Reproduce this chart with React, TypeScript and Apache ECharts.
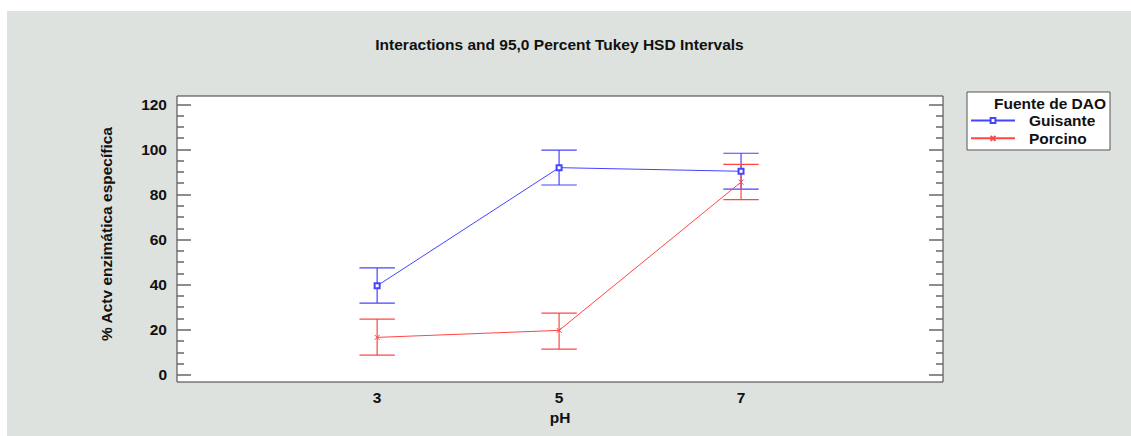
import React, { useEffect, useRef } from "react";
import * as echarts from "echarts";

const titleText = "Interactions and 95,0 Percent Tukey HSD Intervals";
const yAxisName = "% Actv enzimática específica";
const xAxisName = "pH";
const legendTitle = "Fuente de DAO";

const phLevels = [3, 5, 7];
const guisanteMean = [39.5, 91.9, 90.3];
const guisanteLow = [31.8, 84.2, 82.4];
const guisanteHigh = [47.4, 99.7, 98.3];
const porcinoMean = [16.6, 19.7, 85.5];
const porcinoLow = [8.7, 11.4, 77.7];
const porcinoHigh = [24.7, 27.4, 93.4];

const yTickLabels = [0, 20, 40, 60, 80, 100, 120];
const yMinorTicks = [5, 10, 15, 25, 30, 35, 45, 50, 55, 65, 70, 75, 85, 90, 95, 105, 110, 115];
const xTickLabels = [3, 5, 7];

const BLUE = "#4444ff";
const RED = "#ff4646";
const FONT = '"Liberation Sans", Arial, sans-serif';
const FS = 15.5;

function errorBarSeries(name: string, color: string, lows: number[], highs: number[]) {
  return {
    type: "custom",
    name: name + " HSD",
    xAxisIndex: 0,
    yAxisIndex: 0,
    z: 3,
    encode: { x: 0, y: [1, 2] },
    data: phLevels.map((p, i) => [p, lows[i], highs[i]]),
    renderItem: (params: any, api: any) => {
      const x = api.value(0);
      const pLo = api.coord([x, api.value(1)]);
      const pHi = api.coord([x, api.value(2)]);
      const hw = 17.7;
      const style = { stroke: color, lineWidth: 1.2 };
      return {
        type: "group",
        children: [
          { type: "line", shape: { x1: pLo[0], y1: pLo[1], x2: pHi[0], y2: pHi[1] }, style },
          { type: "line", shape: { x1: pLo[0] - hw, y1: pLo[1], x2: pLo[0] + hw, y2: pLo[1] }, style },
          { type: "line", shape: { x1: pHi[0] - hw, y1: pHi[1], x2: pHi[0] + hw, y2: pHi[1] }, style },
        ],
      };
    },
  };
}

const Y_MIN = -3.2;
const Y_MAX = 123.7;

function yAxisDef(position: string, major: boolean, showLabels: boolean, withName: boolean) {
  return {
    type: "value",
    position,
    min: Y_MIN,
    max: Y_MAX,
    name: withName ? yAxisName : "",
    nameLocation: "middle",
    nameGap: 63,
    nameTextStyle: {
      fontFamily: FONT,
      fontWeight: "bold",
      fontSize: FS,
      color: "#111",
      padding: [0, 0, 0, 10],
    },
    axisLine: { show: false },
    splitLine: { show: false },
    axisTick: {
      show: true,
      inside: true,
      length: major ? 14 : 7,
      customValues: major ? yTickLabels : yMinorTicks,
      lineStyle: { color: "#666", width: 1.5 },
    },
    axisLabel: {
      show: showLabels,
      customValues: yTickLabels,
      margin: 10,
      fontFamily: FONT,
      fontWeight: "bold",
      fontSize: FS,
      color: "#111",
    },
  };
}

export default function App() {
  const ref = useRef<HTMLDivElement>(null);

  useEffect(() => {
    if (!ref.current) return;
    const chart = echarts.init(ref.current, null, { renderer: "svg" });
    chart.setOption({
      animation: false,
      backgroundColor: "transparent",
      title: {
        text: titleText,
        left: 554.5,
        top: 31,
        textAlign: "center",
        textStyle: { fontFamily: FONT, fontWeight: "bold", fontSize: FS, color: "#111" },
      },
      grid: {
        left: 177,
        top: 96,
        right: 188,
        bottom: 54,
        show: true,
        backgroundColor: "#ffffff",
        borderColor: "#3a3a3a",
        borderWidth: 1,
      },
      xAxis: {
        type: "value",
        min: 0.8,
        max: 9.22,
        name: xAxisName,
        nameLocation: "middle",
        nameGap: 26,
        nameTextStyle: { fontFamily: FONT, fontWeight: "bold", fontSize: FS, color: "#111" },
        axisLine: { show: false },
        axisTick: { show: false },
        splitLine: { show: false },
        axisLabel: {
          customValues: xTickLabels,
          margin: 7,
          fontFamily: FONT,
          fontWeight: "bold",
          fontSize: FS,
          color: "#111",
        },
      },
      yAxis: [
        yAxisDef("left", true, true, true),
        yAxisDef("left", false, false, false),
        yAxisDef("right", true, false, false),
        yAxisDef("right", false, false, false),
      ],
      legend: {
        orient: "vertical",
        left: 970,
        top: 112.5,
        padding: 0,
        itemWidth: 44,
        itemHeight: 6,
        itemGap: 1.8,
        data: ["Guisante", "Porcino"],
        textStyle: {
          fontFamily: FONT,
          fontWeight: "bold",
          fontSize: FS,
          color: "#111",
          padding: [0, 0, 0, 9],
        },
        z: 20,
      },
      graphic: [
        {
          type: "rect",
          z: 10,
          shape: { x: 967, y: 92, width: 143, height: 58 },
          style: { fill: "#ffffff", stroke: "#555", lineWidth: 1 },
        },
        {
          type: "text",
          z: 11,
          x: 1106,
          y: 103,
          style: {
            text: legendTitle,
            font: 'bold 15.5px "Liberation Sans", Arial, sans-serif',
            fill: "#111",
            align: "right",
            verticalAlign: "middle",
          },
        },
      ],
      series: [
        errorBarSeries("Guisante", BLUE, guisanteLow, guisanteHigh),
        errorBarSeries("Porcino", RED, porcinoLow, porcinoHigh),
        {
          type: "line",
          name: "Guisante",
          z: 4,
          data: phLevels.map((p, i) => [p, guisanteMean[i]]),
          symbol: "emptyRect",
          symbolSize: 5,
          lineStyle: { color: BLUE, width: 1 },
          itemStyle: { color: BLUE, borderColor: BLUE, borderWidth: 1 },
        },
        {
          type: "line",
          name: "Porcino",
          z: 4,
          data: phLevels.map((p, i) => [p, porcinoMean[i]]),
          symbol: "path://M0 0L10 10M10 0L0 10",
          symbolSize: 5,
          lineStyle: { color: RED, width: 1 },
          itemStyle: { color: "none", borderColor: RED, borderWidth: 1 },
        },
      ],
    });
    return () => chart.dispose();
  }, []);

  return (
    <div style={{ position: "absolute", left: 0, top: 0, width: 1131, height: 436, background: "#ffffff" }}>
      <div style={{ position: "absolute", left: 7, top: 11, right: 0, bottom: 0, background: "#dde2df" }} />
      <div ref={ref} style={{ position: "absolute", left: 0, top: 0, width: 1131, height: 436 }} />
    </div>
  );
}
